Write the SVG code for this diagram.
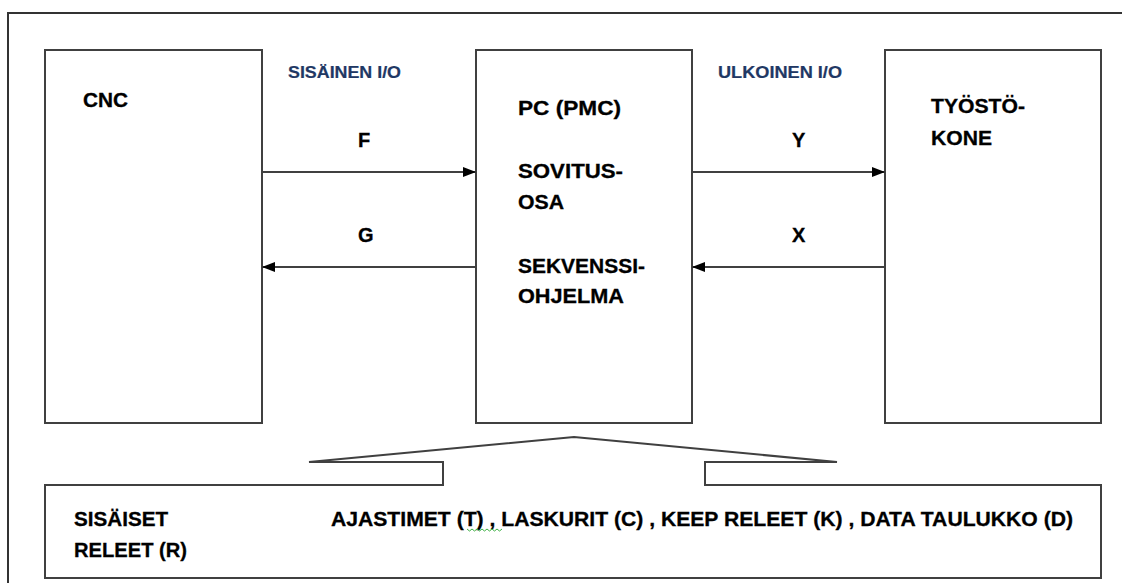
<svg xmlns="http://www.w3.org/2000/svg" width="1122" height="583" viewBox="0 0 1122 583">
  <style>
    .box { fill: #ffffff; stroke: #404040; stroke-width: 2; }
    .frame { fill: none; stroke: #333333; stroke-width: 2; }
    .conn { fill: none; stroke: #404040; stroke-width: 2; }
    .lbl { font-family: "Liberation Sans", Arial, sans-serif; font-weight: bold; font-size: 20px; fill: #000000; stroke: #000000; stroke-width: 0.3; }
    .io { font-family: "Liberation Sans", Arial, sans-serif; font-weight: bold; font-size: 16px; fill: #1F3864; stroke: #1F3864; stroke-width: 0.2; }
  </style>
  <defs>
    <marker id="arrow" viewBox="0 0 13 10" refX="13" refY="5" markerWidth="13" markerHeight="10" markerUnits="userSpaceOnUse" orient="auto">
      <path d="M0,0 L13,5 L0,10 Z" fill="#000000"/>
    </marker>
  </defs>
  <rect width="1122" height="583" fill="#ffffff"/>
  <rect class="frame" x="8" y="13" width="1130" height="600"/>

  <g id="cnc">
    <rect class="box" x="45" y="50" width="217" height="373"/>
    <text class="lbl" x="83" y="107" textLength="45" lengthAdjust="spacingAndGlyphs">CNC</text>
  </g>

  <g id="pc">
    <rect class="box" x="476" y="50" width="216" height="373"/>
    <text class="lbl" x="518" y="115" textLength="103" lengthAdjust="spacingAndGlyphs">PC (PMC)</text>
    <text class="lbl" x="518" y="178" textLength="105" lengthAdjust="spacingAndGlyphs">SOVITUS-</text>
    <text class="lbl" x="518" y="209" textLength="46" lengthAdjust="spacingAndGlyphs">OSA</text>
    <text class="lbl" x="518" y="273" textLength="127" lengthAdjust="spacingAndGlyphs">SEKVENSSI-</text>
    <text class="lbl" x="518" y="303" textLength="106" lengthAdjust="spacingAndGlyphs">OHJELMA</text>
  </g>

  <g id="tyostokone">
    <rect class="box" x="885" y="50" width="216" height="373"/>
    <text class="lbl" x="931" y="113" textLength="94" lengthAdjust="spacingAndGlyphs">TYÖSTÖ-</text>
    <text class="lbl" x="931" y="145" textLength="61" lengthAdjust="spacingAndGlyphs">KONE</text>
  </g>

  <g id="memory">
    <path class="box" d="M45,485 L443,485 L443,462 L309,462 L574,437 L837,462 L705,462 L705,485 L1101,485 L1101,578 L45,578 Z"/>
    <text class="lbl" x="74" y="526" textLength="94" lengthAdjust="spacingAndGlyphs">SISÄISET</text>
    <text class="lbl" x="74" y="557" textLength="113" lengthAdjust="spacingAndGlyphs">RELEET (R)</text>
    <text class="lbl" x="331" y="526" textLength="742" lengthAdjust="spacingAndGlyphs">AJASTIMET (T) , LASKURIT (C) , KEEP RELEET (K) , DATA TAULUKKO (D)</text>
    <path d="M467,529 l2.5,2 l2.5,-2 l2.5,2 l2.5,-2 l2.5,2 l2.5,-2 l2.5,2 l2.5,-2 l2.5,2 l2.5,-2 l2.5,2 l2.5,-2 l2.5,2 l2.5,-2" fill="none" stroke="#3cb043" stroke-width="1"/>
  </g>

  <g id="connectors">
    <line class="conn" x1="262" y1="172" x2="476" y2="172" marker-end="url(#arrow)"/>
    <line class="conn" x1="476" y1="267" x2="262" y2="267" marker-end="url(#arrow)"/>
    <line class="conn" x1="692" y1="172" x2="885" y2="172" marker-end="url(#arrow)"/>
    <line class="conn" x1="885" y1="267" x2="692" y2="267" marker-end="url(#arrow)"/>
    <text class="io" x="288" y="78" textLength="113" lengthAdjust="spacingAndGlyphs">SISÄINEN I/O</text>
    <text class="io" x="718" y="78" textLength="124" lengthAdjust="spacingAndGlyphs">ULKOINEN I/O</text>
    <text class="lbl" x="358" y="147">F</text>
    <text class="lbl" x="792" y="147">Y</text>
    <text class="lbl" x="358" y="242">G</text>
    <text class="lbl" x="792" y="242">X</text>
  </g>
</svg>
